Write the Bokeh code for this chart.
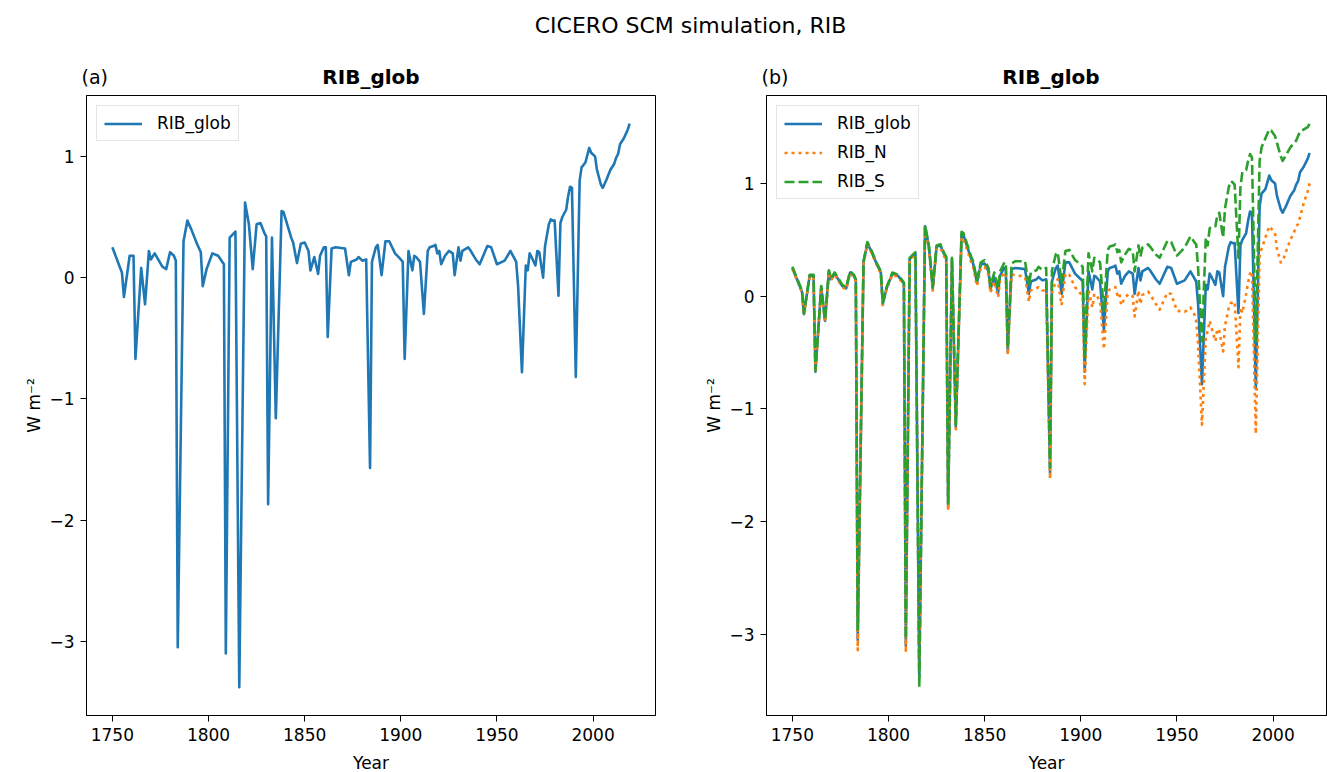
from bokeh.plotting import figure
from bokeh.models import (ColumnDataSource, Range1d, FixedTicker, Label,
                          Legend, LegendItem)
from bokeh.layouts import column, row
from bokeh.embed import file_html
from bokeh.resources import INLINE

# ---------------- data ----------------
years = [
    1750, 1755, 1756, 1759, 1761, 1762, 1765, 1767, 1769, 1770,
    1772, 1776, 1778, 1780, 1782, 1783, 1784, 1787, 1789, 1791,
    1794, 1796, 1797, 1799, 1802, 1805, 1808, 1809, 1811, 1814,
    1816, 1819, 1821, 1823, 1825, 1827, 1829, 1830, 1831, 1833,
    1835, 1838, 1839, 1843, 1844, 1846, 1848, 1850, 1852, 1853,
    1855, 1857, 1858, 1860, 1861, 1862, 1864, 1866, 1871, 1873,
    1874, 1877, 1878, 1880, 1882, 1884, 1885, 1887, 1888, 1890,
    1892, 1894, 1897, 1900, 1901, 1902, 1904, 1906, 1907, 1908,
    1910, 1912, 1914, 1915, 1917, 1918, 1919, 1920, 1921, 1923,
    1925, 1927, 1928, 1930, 1931, 1932, 1935, 1936, 1939, 1941,
    1945, 1947, 1950, 1954, 1957, 1959, 1960, 1961, 1963, 1965,
    1966, 1967, 1968, 1970, 1971, 1972, 1974, 1975, 1977, 1978,
    1979, 1980, 1982, 1983, 1984, 1986, 1987, 1988, 1989, 1991,
    1993, 1994, 1996, 1998, 1999, 2001, 2002, 2004, 2005, 2007,
    2009, 2011, 2012, 2013, 2014, 2016, 2018, 2019,
]

rib_glob = [
    0.25, 0.04, -0.16, 0.18, 0.18, -0.67, 0.08, -0.22, 0.22, 0.15,
    0.20, 0.09, 0.07, 0.21, 0.18, 0.14, -3.05, 0.30, 0.47, 0.40,
    0.28, 0.21, -0.07, 0.07, 0.20, 0.18, 0.11, -3.10, 0.33, 0.38,
    -3.38, 0.62, 0.44, 0.07, 0.44, 0.45, 0.37, 0.34, -1.87, 0.33,
    -1.16, 0.55, 0.54, 0.33, 0.29, 0.12, 0.28, 0.29, 0.22, 0.06,
    0.17, 0.03, 0.18, 0.25, 0.25, -0.49, 0.24, 0.25, 0.24, 0.02,
    0.13, 0.15, 0.17, 0.14, 0.15, -1.57, 0.13, 0.25, 0.27, 0.02,
    0.30, 0.30, 0.20, 0.15, 0.13, -0.67, 0.22, 0.06, 0.18, 0.17,
    0.13, -0.30, 0.22, 0.25, 0.26, 0.27, 0.20, 0.22, 0.11, 0.18,
    0.22, 0.20, 0.02, 0.25, 0.14, 0.22, 0.25, 0.23, 0.15, 0.11,
    0.26, 0.25, 0.11, 0.14, 0.22, 0.16, 0.13, -0.07, -0.78, 0.10,
    0.06, 0.20, 0.17, 0.10, 0.22, 0.21, 0.00, 0.26, 0.44, 0.48,
    0.47, 0.47, -0.15, 0.45, 0.50, 0.56, 0.67, 0.75, 0.74, -0.82,
    0.80, 0.91, 0.95, 1.07, 1.03, 1.00, 0.89, 0.77, 0.74, 0.81,
    0.89, 0.94, 0.99, 1.02, 1.10, 1.15, 1.22, 1.27,
]

rib_n = [
    0.24, 0.03, -0.17, 0.17, 0.17, -0.68, 0.07, -0.23, 0.21, 0.14,
    0.19, 0.08, 0.06, 0.20, 0.17, 0.13, -3.14, 0.29, 0.46, 0.39,
    0.27, 0.20, -0.08, 0.06, 0.19, 0.17, 0.10, -3.16, 0.32, 0.37,
    -3.29, 0.60, 0.42, 0.05, 0.42, 0.43, 0.35, 0.32, -1.90, 0.31,
    -1.18, 0.52, 0.51, 0.30, 0.26, 0.09, 0.25, 0.26, 0.19, 0.03,
    0.13, -0.01, 0.14, 0.21, 0.20, -0.52, 0.19, 0.19, 0.17, -0.05,
    0.05, 0.07, 0.08, 0.05, 0.05, -1.62, 0.03, 0.13, 0.15, -0.08,
    0.20, 0.19, 0.08, 0.02, 0.00, -0.78, 0.06, -0.10, 0.02, 0.01,
    -0.04, -0.47, 0.03, 0.06, 0.07, 0.08, 0.01, 0.03, -0.08, -0.01,
    0.02, 0.00, -0.18, 0.05, -0.07, 0.01, 0.04, 0.02, -0.07, -0.12,
    0.03, 0.02, -0.13, -0.14, -0.10, -0.16, -0.22, -0.43, -1.14, -0.36,
    -0.31, -0.22, -0.28, -0.40, -0.29, -0.31, -0.49, -0.26, -0.10, -0.06,
    -0.06, -0.05, -0.63, -0.10, -0.15, 0.02, 0.12, 0.20, 0.22, -1.22,
    0.36, 0.42, 0.52, 0.62, 0.60, 0.56, 0.42, 0.30, 0.31, 0.41,
    0.50, 0.57, 0.62, 0.64, 0.70, 0.83, 0.93, 1.00,
]

rib_s = [
    0.26, 0.05, -0.15, 0.19, 0.19, -0.66, 0.09, -0.21, 0.23, 0.16,
    0.21, 0.10, 0.08, 0.22, 0.19, 0.15, -2.96, 0.31, 0.48, 0.41,
    0.29, 0.22, -0.06, 0.08, 0.21, 0.19, 0.12, -3.04, 0.34, 0.39,
    -3.47, 0.63, 0.45, 0.08, 0.45, 0.46, 0.38, 0.35, -1.84, 0.34,
    -1.14, 0.57, 0.56, 0.35, 0.31, 0.14, 0.30, 0.32, 0.25, 0.09,
    0.21, 0.07, 0.22, 0.29, 0.30, -0.46, 0.29, 0.31, 0.31, 0.09,
    0.21, 0.23, 0.26, 0.23, 0.25, -1.52, 0.23, 0.37, 0.39, 0.12,
    0.40, 0.41, 0.32, 0.28, 0.26, -0.56, 0.38, 0.22, 0.34, 0.33,
    0.30, -0.13, 0.41, 0.44, 0.45, 0.46, 0.39, 0.41, 0.30, 0.37,
    0.42, 0.40, 0.22, 0.45, 0.35, 0.43, 0.46, 0.44, 0.37, 0.34,
    0.49, 0.48, 0.36, 0.43, 0.53, 0.48, 0.46, 0.25, -0.40, 0.52,
    0.45, 0.60, 0.62, 0.62, 0.72, 0.74, 0.52, 0.78, 0.97, 1.02,
    1.01, 0.99, 0.34, 0.96, 1.10, 1.12, 1.20, 1.26, 1.23, -0.40,
    1.20, 1.32, 1.40, 1.48, 1.47, 1.42, 1.36, 1.24, 1.20, 1.26,
    1.32, 1.36, 1.38, 1.42, 1.46, 1.48, 1.50, 1.53,
]

x_ticks = [1750, 1800, 1850, 1900, 1950, 2000]
y_ticks = [-3, -2, -1, 0, 1]
suptitle = "CICERO SCM simulation, RIB"
panel_title = "RIB_glob"
panel_letters = ["(a)", "(b)"]
x_label = "Year"
y_label = "W m\u207b\u00b2"

# ---------------- styling / geometry ----------------
FONT = "DejaVu Sans"
TICK_PX = "17px"
BLUE, ORANGE, GREEN = "#1f77b4", "#ff7f0e", "#2ca02c"
LW = 2.6

TOTAL_W = 1327
HEAD_H = 92          # strip holding suptitle and panel titles
TOP_GAP = 3
FRAME_H = 620
FRAME_W1 = 569
FRAME_W2 = 560
LEFT1, RIGHT1 = 86, 40
LEFT2, RIGHT2 = 71, 1
frame1_left = LEFT1
frame2_left = LEFT1 + FRAME_W1 + RIGHT1 + LEFT2


def padded(lo, hi, frac=0.05):
    span = hi - lo
    return lo - frac * span, hi + frac * span


x_start, x_end = padded(min(years), max(years))
x_end2 = x_start + (x_end - x_start) * FRAME_W2 / FRAME_W1

src = ColumnDataSource(dict(year=years, glob=rib_glob, n=rib_n, s=rib_s))


def minus(v):
    return ("\u2212" + str(abs(v))) if v < 0 else str(v)


def make_panel(yr, xr, frame_w, border_left, border_right):
    p = figure(frame_width=frame_w, frame_height=FRAME_H,
               x_range=xr, y_range=yr, title=None,
               toolbar_location=None, output_backend="svg",
               min_border_left=border_left, min_border_right=border_right,
               min_border_top=TOP_GAP, min_border_bottom=55,
               background_fill_color="white", border_fill_color="white")
    p.xgrid.visible = False
    p.ygrid.visible = False
    p.outline_line_color = "black"
    p.outline_line_width = 1
    p.outline_line_alpha = 1
    p.xaxis.ticker = FixedTicker(ticks=x_ticks)
    p.yaxis.ticker = FixedTicker(ticks=y_ticks)
    p.yaxis.major_label_overrides = {t: minus(t) for t in y_ticks}
    p.xaxis.axis_label = x_label
    p.yaxis.axis_label = y_label
    for ax in p.axis:
        ax.axis_line_color = "black"
        ax.major_tick_out = 6
        ax.major_tick_in = 0
        ax.major_tick_line_color = "black"
        ax.minor_tick_line_color = None
        ax.major_label_text_font = FONT
        ax.major_label_text_font_size = TICK_PX
        ax.major_label_text_color = "black"
        ax.major_label_standoff = 6
        ax.axis_label_text_font = FONT
        ax.axis_label_text_font_size = TICK_PX
        ax.axis_label_text_font_style = "normal"
        ax.axis_label_text_color = "black"
    p.xaxis.axis_label_standoff = 9
    p.yaxis.axis_label_standoff = 2
    return p


def add_legend(p, items):
    leg = Legend(items=items, location="top_left", margin=10,
                 padding=7, spacing=9, glyph_width=38, glyph_height=19,
                 label_height=19, label_standoff=15,
                 label_text_font=FONT, label_text_font_size=TICK_PX,
                 label_text_color="black",
                 border_line_color="#cccccc", border_line_width=1,
                 background_fill_color="white", background_fill_alpha=0.8)
    p.add_layout(leg)


# ---------------- heading strip (suptitle + panel titles) ----------------
p0 = figure(width=TOTAL_W, height=HEAD_H, x_range=Range1d(0, TOTAL_W),
            y_range=Range1d(0, HEAD_H), toolbar_location=None, title=None,
            output_backend="svg", x_axis_type=None, y_axis_type=None,
            min_border=0)
p0.xgrid.visible = False
p0.ygrid.visible = False
p0.outline_line_color = None
p0.add_layout(Label(x=690, y=HEAD_H - 25, text=suptitle, text_font=FONT,
                    text_font_size="22px", text_color="black",
                    text_align="center", text_baseline="middle"))
for left, fw, letter in [(frame1_left, FRAME_W1, panel_letters[0]),
                         (frame2_left, FRAME_W1, panel_letters[1])]:
    p0.add_layout(Label(x=left + fw / 2, y=HEAD_H - 76, text=panel_title,
                        text_font=FONT, text_font_size="20px",
                        text_font_style="bold", text_color="black",
                        text_align="center", text_baseline="middle"))
    p0.add_layout(Label(x=left - 5, y=HEAD_H - 76, text=letter,
                        text_font=FONT, text_font_size="19px",
                        text_color="black",
                        text_align="left", text_baseline="middle"))

# ---------------- panel (a) ----------------
y1 = padded(min(rib_glob), max(rib_glob))
p1 = make_panel(Range1d(*y1), Range1d(x_start, x_end), FRAME_W1, LEFT1, RIGHT1)
r_a = p1.line("year", "glob", source=src, line_color=BLUE, line_width=LW,
              line_join="round")
add_legend(p1, [LegendItem(label="RIB_glob", renderers=[r_a])])

# ---------------- panel (b) ----------------
all_vals = rib_glob + rib_n + rib_s
y2 = padded(min(all_vals), max(all_vals))
p2 = make_panel(Range1d(*y2), Range1d(x_start, x_end2), FRAME_W2, LEFT2, RIGHT2)
r_g = p2.line("year", "glob", source=src, line_color=BLUE, line_width=LW,
              line_join="round")
r_n = p2.line("year", "n", source=src, line_color=ORANGE, line_width=LW,
              line_dash="3 4", line_join="round")
r_s = p2.line("year", "s", source=src, line_color=GREEN, line_width=LW,
              line_dash="10 4", line_join="round")
add_legend(p2, [LegendItem(label="RIB_glob", renderers=[r_g]),
                LegendItem(label="RIB_N", renderers=[r_n]),
                LegendItem(label="RIB_S", renderers=[r_s])])

layout = column(p0, row(p1, p2))
open("out.html", "w").write(file_html(layout, INLINE))
